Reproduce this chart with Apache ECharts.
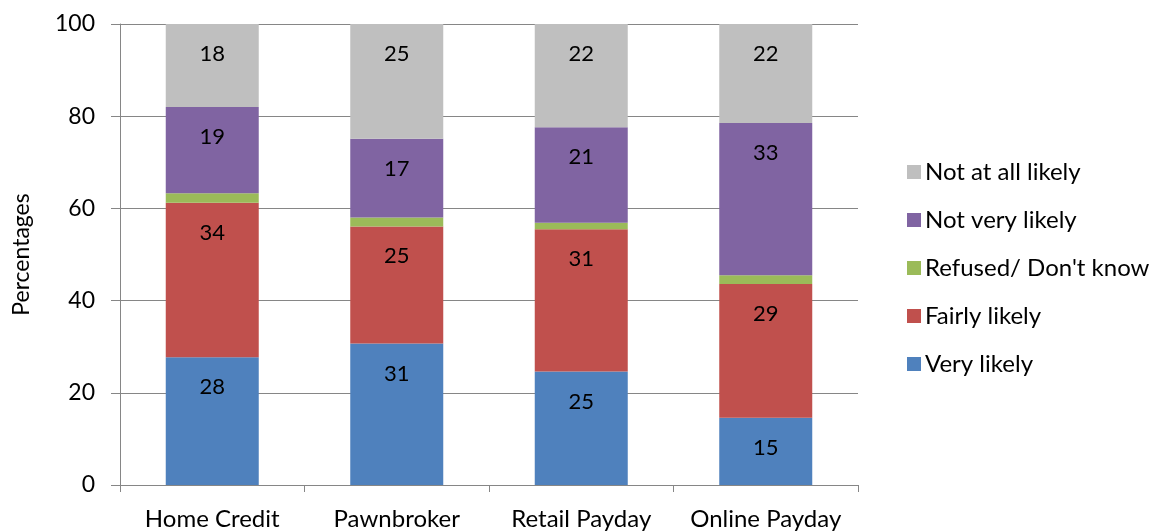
<!DOCTYPE html>
<html><head><meta charset="utf-8">
<script src="https://cdn.jsdelivr.net/npm/echarts@6/dist/echarts.min.js"></script>
<style>html,body{margin:0;padding:0;background:#fff}#c{width:1154px;height:532px}</style>
</head><body><div id="c"></div>
<script>
const categories = ['Home Credit', 'Pawnbroker', 'Retail Payday', 'Online Payday'];
const veryLikely = [27.7, 30.7, 24.6, 14.6];
const fairlyLikely = [33.5, 25.4, 30.9, 29.0];
const refused = [2.1, 1.9, 1.4, 1.9];
const notVeryLikely = [18.7, 17.1, 20.7, 33.0];
const notAtAll = [18.0, 24.9, 22.4, 21.5];
const seriesNames = ['Very likely', 'Fairly likely', 'Refused/ Don\'t know', 'Not very likely', 'Not at all likely'];
const seriesColors = ['#4F81BD', '#C0504D', '#9BBB59', '#8064A2', '#BFBFBF'];
const yTicks = { min: 0, max: 100, interval: 20 };

const FONT = 'Lato';
const dataSets = [veryLikely, fairlyLikely, refused, notVeryLikely, notAtAll];
const series = dataSets.map((d, i) => ({
  name: seriesNames[i],
  type: 'bar',
  stack: 'total',
  barWidth: 93,
  data: d,
  itemStyle: { color: seriesColors[i] },
  label: {
    show: i !== 2,
    position: 'insideTop',
    distance: 19,
    fontFamily: FONT,
    fontSize: 22,
    color: '#000',
    formatter: p => Math.round(p.value)
  }
}));

const chart = echarts.init(document.getElementById('c'), null, { renderer: 'canvas' });
chart.setOption({
  animation: false,
  textStyle: { fontFamily: FONT },
  grid: { left: 120, right: 296, top: 24, bottom: 47, containLabel: false },
  legend: {
    orient: 'vertical',
    left: 902,
    top: 155,
    itemWidth: 14,
    itemHeight: 14,
    itemGap: 24,
    icon: 'rect',
    data: seriesNames.slice().reverse(),
    textStyle: { fontFamily: FONT, fontSize: 24, color: '#000', lineHeight: 24, padding: [0, 0, 0, -1] }
  },
  xAxis: {
    type: 'category',
    data: categories,
    axisLine: { lineStyle: { color: '#868686', width: 1 } },
    axisTick: { show: true, interval: 0, length: 7, lineStyle: { color: '#868686' } },
    axisLabel: { interval: 0, hideOverlap: false, fontFamily: FONT, fontSize: 24, color: '#000', margin: 22 }
  },
  yAxis: {
    type: 'value',
    min: yTicks.min, max: yTicks.max, interval: yTicks.interval,
    name: 'Percentages',
    nameLocation: 'middle',
    nameGap: 87,
    nameRotate: 90,
    nameTextStyle: { fontFamily: FONT, fontSize: 23, color: '#000' },
    axisLine: { show: true, lineStyle: { color: '#868686' } },
    axisTick: { show: true, length: 9, lineStyle: { color: '#868686' } },
    axisLabel: { fontFamily: FONT, fontSize: 23, color: '#000', margin: 25 },
    splitLine: { show: true, lineStyle: { color: '#868686', width: 1 } }
  },
  series: series
});
</script></body></html>
